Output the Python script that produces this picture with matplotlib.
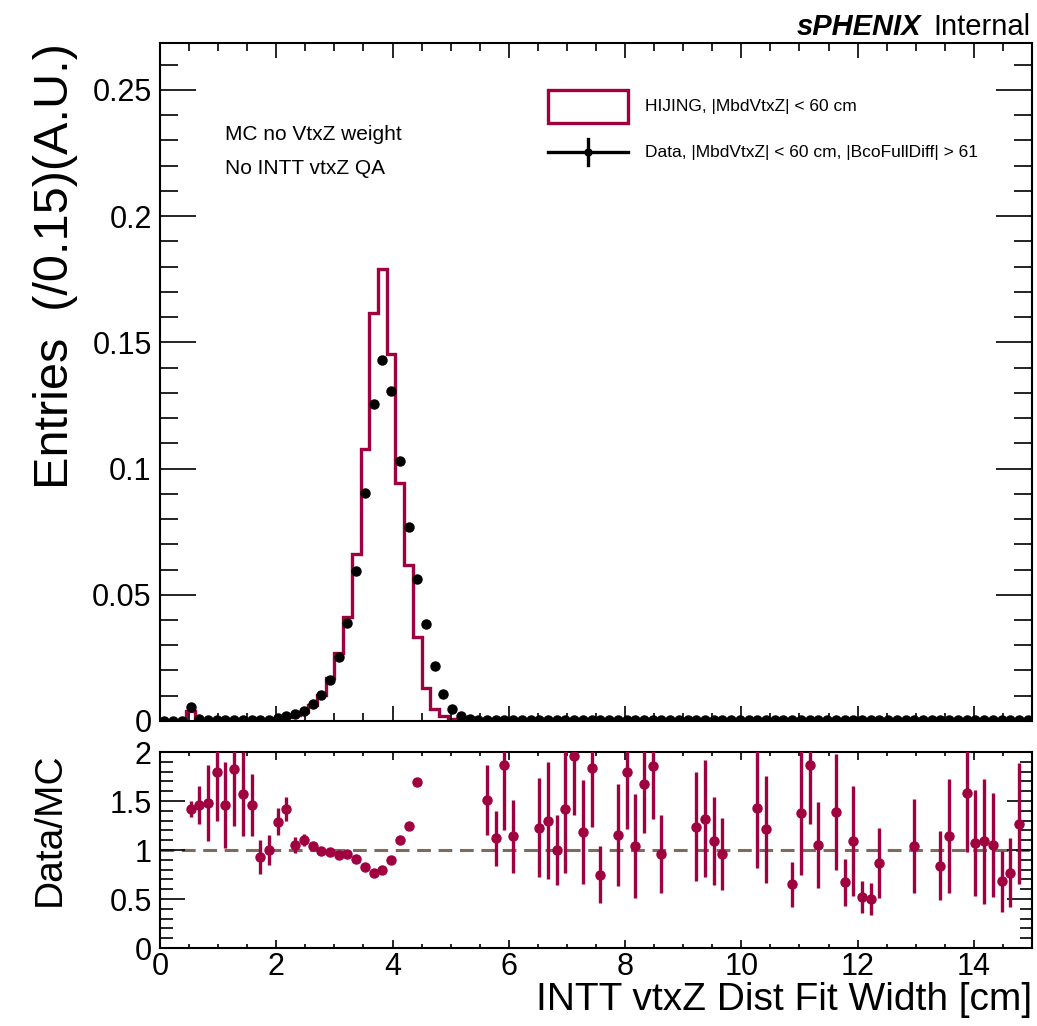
import numpy as np
import matplotlib
matplotlib.use('Agg')
import matplotlib.pyplot as plt
from matplotlib.ticker import MultipleLocator, FixedLocator
from matplotlib.patches import Rectangle
from matplotlib.lines import Line2D

plt.rcParams['font.family'] = ['Liberation Sans', 'DejaVu Sans']

# 100 bins of 0.15 cm from 0 to 15
bin_width = 0.15
n_bins = 100

# HIJING (MC) normalised histogram
mc = [0, 0, 0, 0.0040, 0.0003, 0.0002, 0.0001, 0.0001, 0.0001, 0.0001,
      0.0001, 0.0001, 0.0001, 0.0008, 0.0015, 0.0025, 0.0037, 0.0064, 0.0103, 0.0172,
      0.0268, 0.0410, 0.0660, 0.1078, 0.1618, 0.1790, 0.1453, 0.0942, 0.0616, 0.0334,
      0.0132, 0.0046, 0.0020, 0.0008, 0.0003, 0.0002, 0.0, 0.0002, 0.0002, 0.0001,
      0.0001, 0.0, 0.0, 0.0001, 0.0001, 0.0001, 0.0001, 0.0001, 0.0001, 0.0001,
      0.0001, 0.0, 0.0001, 0.0001, 0.0001, 0.0001, 0.0001, 0.0001, 0.0, 0.0,
      0.0, 0.0001, 0.0001, 0.0001, 0.0001, 0.0, 0.0, 0.0, 0.0001, 0.0001,
      0.0, 0.0, 0.0001, 0.0001, 0.0001, 0.0001, 0.0, 0.0001, 0.0001, 0.0001,
      0.0001, 0.0001, 0.0001, 0.0, 0.0, 0.0, 0.0001, 0.0, 0.0, 0.0001,
      0.0001, 0.0, 0.0001, 0.0001, 0.0001, 0.0001, 0.0001, 0.0001, 0.0001, 0.0]

# Data normalised histogram
data = [0, 0, 0, 0.0057, 0.0008, 0.0003, 0.0002, 0.0002, 0.0002, 0.0002,
        0.0002, 0.0002, 0.0002, 0.0010, 0.0021, 0.0026, 0.0041, 0.0067, 0.0103, 0.0162,
        0.0252, 0.0387, 0.0596, 0.0905, 0.1255, 0.1430, 0.1306, 0.1029, 0.0769, 0.0563,
        0.0386, 0.0219, 0.0107, 0.0046, 0.0020, 0.0008, 0.0004, 0.0003, 0.0003, 0.0002,
        0.0002, 0.0002, 0.0002, 0.0002, 0.0002, 0.0002, 0.0002, 0.0002, 0.0002, 0.0002,
        0.0002, 0.0002, 0.0002, 0.0002, 0.0002, 0.0002, 0.0002, 0.0002, 0.0002, 0.0002,
        0.0002, 0.0002, 0.0002, 0.0002, 0.0002, 0.0002, 0.0002, 0.0002, 0.0002, 0.0002,
        0.0002, 0.0002, 0.0002, 0.0002, 0.0002, 0.0002, 0.0002, 0.0002, 0.0002, 0.0002,
        0.0002, 0.0002, 0.0002, 0.0002, 0.0002, 0.0002, 0.0002, 0.0002, 0.0002, 0.0002,
        0.0002, 0.0002, 0.0002, 0.0002, 0.0002, 0.0002, 0.0002, 0.0002, 0.0002, 0.0002]

# Data/MC ratio (bin index, value, error)
ratio_bin = [3, 4, 5, 6, 7, 8, 9, 10, 11, 12,
             13, 14, 15, 16, 17, 18, 19, 20, 21, 22,
             23, 24, 25, 26, 27, 28, 29, 37, 38, 39,
             40, 43, 44, 45, 46, 47, 48, 49, 50, 52,
             53, 54, 55, 56, 57, 61, 62, 63, 64, 68,
             69, 72, 73, 74, 75, 77, 78, 79, 80, 81,
             82, 86, 89, 90, 92, 93, 94, 95, 96, 97,
             98]
ratio_val = [1.42, 1.46, 1.48, 1.80, 1.46, 1.83, 1.57, 1.46, 0.93, 1.00,
             1.29, 1.42, 1.05, 1.10, 1.04, 0.99, 0.98, 0.95, 0.96, 0.91,
             0.83, 0.77, 0.80, 0.90, 1.10, 1.25, 1.69, 1.51, 1.12, 1.87,
             1.14, 1.23, 1.30, 1.00, 1.42, 1.96, 1.18, 1.84, 0.75, 1.15,
             1.80, 1.04, 1.67, 1.86, 0.96, 1.24, 1.32, 1.09, 0.96, 1.43,
             1.21, 0.65, 1.38, 1.87, 1.05, 1.39, 0.67, 1.09, 0.52, 0.50,
             0.87, 1.04, 0.84, 1.14, 1.58, 1.07, 1.09, 1.05, 0.68, 0.77,
             1.27]
ratio_err = [0.08, 0.19, 0.39, 0.50, 0.44, 0.58, 0.43, 0.32, 0.17, 0.15,
             0.14, 0.12, 0.08, 0.06, 0.0, 0.0, 0.0, 0.0, 0.0, 0.0,
             0.0, 0.0, 0.0, 0.0, 0.0, 0.0, 0.0, 0.36, 0.28, 0.67,
             0.37, 0.51, 0.60, 0.36, 0.65, 0.60, 0.53, 0.60, 0.29, 0.52,
             0.59, 0.53, 0.50, 0.54, 0.40, 0.56, 0.60, 0.45, 0.37, 0.61,
             0.55, 0.23, 0.63, 0.60, 0.44, 0.59, 0.24, 0.56, 0.16, 0.16,
             0.36, 0.48, 0.35, 0.58, 0.60, 0.54, 0.64, 0.53, 0.31, 0.35,
             0.62]

crimson = '#a0003f'
line_brown = '#806a5a'

edges = np.arange(n_bins + 1) * bin_width
centers = edges[:-1] + bin_width / 2

fig = plt.figure(figsize=(10.37, 10.26), dpi=100)
ax = fig.add_axes([0.1543, 0.2973, 0.8409, 0.6608])
axr = fig.add_axes([0.1543, 0.0760, 0.8409, 0.1910])

# top panel
ax.stairs(mc, edges, color=crimson, linewidth=2.4)
ax.plot(centers, data, 'o', color='black', markersize=6.5, linestyle='none')
ax.set_xlim(0, 15)
ax.set_ylim(0, 0.2686)
ax.xaxis.set_major_locator(MultipleLocator(2))
ax.xaxis.set_minor_locator(MultipleLocator(0.5))
ax.yaxis.set_major_locator(FixedLocator([0, 0.05, 0.1, 0.15, 0.2, 0.25]))
ax.yaxis.set_minor_locator(MultipleLocator(0.01))
ax.set_yticklabels(['0', '0.05', '0.1', '0.15', '0.2', '0.25'])
ax.tick_params(axis='x', which='major', direction='in', top=True, length=11, width=1.2,
               labelbottom=False)
ax.tick_params(axis='x', which='minor', direction='in', top=True, length=5.5, width=1.2)
ax.tick_params(axis='y', which='major', direction='in', right=True, length=26, width=1.2,
               labelsize=22, pad=6)
ax.tick_params(axis='y', which='minor', direction='in', right=True, length=13, width=1.2)
ax.set_ylabel('Entries  (/0.15)(A.U.)', fontsize=35, loc='top', labelpad=10)
for s in ax.spines.values():
    s.set_linewidth(1.5)

ax.text(0.074, 0.865, 'MC no VtxZ weight', transform=ax.transAxes, fontsize=15,
        va='center')
ax.text(0.074, 0.815, 'No INTT vtxZ QA', transform=ax.transAxes, fontsize=15,
        va='center')

# legend drawn by hand in axes coords
ax.add_patch(Rectangle((0.445, 0.882), 0.092, 0.048, transform=ax.transAxes,
                       facecolor='white', edgecolor=crimson, linewidth=2.4))
ax.text(0.556, 0.906, 'HIJING, |MbdVtxZ| < 60 cm', transform=ax.transAxes,
        fontsize=12.5, va='center')
ax.add_line(Line2D([0.445, 0.537], [0.839, 0.839], transform=ax.transAxes,
                   color='black', linewidth=2.4))
ax.add_line(Line2D([0.491, 0.491], [0.820, 0.858], transform=ax.transAxes,
                   color='black', linewidth=2.4))
ax.plot([0.491], [0.839], 'o', color='black', markersize=5, transform=ax.transAxes)
ax.text(0.556, 0.839, 'Data, |MbdVtxZ| < 60 cm, |BcoFullDiff| > 61',
        transform=ax.transAxes, fontsize=12.5, va='center')

fig.text(0.888, 0.974, 'sPHENIX', fontsize=21, fontweight='bold', style='italic',
         ha='right', va='center')
fig.text(0.994, 0.974, 'Internal', fontsize=21, ha='right', va='center')

# ratio panel
axr.axhline(1, color=line_brown, linestyle=(0, (4.5, 2.5)), linewidth=2.2, zorder=1)
axr.errorbar(centers[ratio_bin], ratio_val, yerr=ratio_err, fmt='o', color=crimson,
             markersize=6.5, elinewidth=2.4, capsize=0, zorder=3)
axr.set_xlim(0, 15)
axr.set_ylim(0, 2)
axr.xaxis.set_major_locator(MultipleLocator(2))
axr.xaxis.set_minor_locator(MultipleLocator(0.5))
axr.yaxis.set_major_locator(FixedLocator([0, 0.5, 1, 1.5, 2]))
axr.yaxis.set_minor_locator(MultipleLocator(0.1))
axr.set_yticklabels(['0', '0.5', '1', '1.5', '2'])
axr.tick_params(axis='x', which='major', direction='in', top=True, length=6, width=1.2,
                labelsize=22, pad=3)
axr.tick_params(axis='x', which='minor', direction='in', top=True, length=3, width=1.2)
axr.tick_params(axis='y', which='major', direction='in', right=True, length=18, width=1.2,
                labelsize=22, pad=6)
axr.tick_params(axis='y', which='minor', direction='in', right=True, length=9, width=1.2)
axr.set_ylabel('Data/MC', fontsize=28, loc='top', labelpad=30)
axr.set_xlabel('INTT vtxZ Dist Fit Width [cm]', fontsize=28, loc='right', labelpad=0)
for s in axr.spines.values():
    s.set_linewidth(1.5)

fig.savefig('out.png', dpi=100)
